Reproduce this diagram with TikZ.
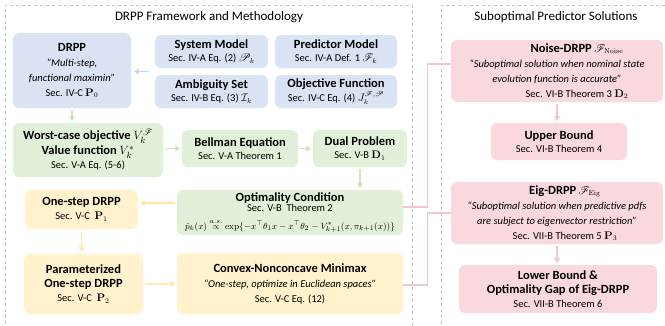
\documentclass[tikz,border=0pt]{standalone}
\usepackage{amsmath}
\usepackage{amssymb}
\usepackage{mathrsfs}
\usepackage[no-math]{fontspec}
\setmainfont{Carlito}
\usepackage{tikz}
\usetikzlibrary{arrows.meta,calc}

\definecolor{blueFill}{HTML}{DAE3F3}
\definecolor{blueLine}{HTML}{C5D3EE}
\definecolor{greenFill}{HTML}{E2F0D9}
\definecolor{greenLine}{HTML}{C9E3B9}
\definecolor{yellowFill}{HTML}{FFF2CC}
\definecolor{yellowLine}{HTML}{FFE6A3}
\definecolor{pinkFill}{HTML}{F9D8DE}
\definecolor{pinkLine}{HTML}{F6C4CD}
\definecolor{frameGray}{HTML}{BFBFBF}

\newcommand{\boxtitle}{\fontsize{12.5}{15}\selectfont\bfseries}
\newcommand{\boxnote}{\fontsize{10.5}{15}\selectfont}

\begin{document}
\begin{tikzpicture}[x=1pt,y=-1pt]
\tikzset{blk/.style={rounded corners=6pt,align=center,inner sep=0pt,
		font=\boxnote},
	blue/.style={blk,fill=blueFill},
	green/.style={blk,fill=greenFill},
	yellow/.style={blk,fill=yellowFill},
	pink/.style={blk,fill=pinkFill},
	flow/.style={line width=1.4pt,-{Triangle[length=4.5pt,width=6pt]},
		shorten <=2pt,shorten >=2pt},
	link/.style={line width=1.2pt,draw=pinkLine},
	frame/.style={draw=frameGray,dashed,line width=0.7pt}}

\useasboundingbox (0,0) rectangle (665,325);

% the two panels
\draw[frame] (5,330) -- (5,5) -- (412,5) -- (412,330);
\draw[frame] (441,330) -- (441,5) -- (668,5);
\node (left title) at (209,17) {\fontsize{13}{15}\selectfont DRPP Framework and Methodology};
\node (right title) at (556,17) {\fontsize{13}{15}\selectfont Suboptimal Predictor Solutions};

% problem set-up
\node[blue,minimum width=118pt,minimum height=75pt] (drpp) at (72,70.5)
	{{\boxtitle DRPP}\\ \itshape “Multi-step,\\ \itshape functional maximin”\\ Sec. IV-C $\mathbf{P}_0$};
\node[blue,minimum width=113pt,minimum height=33pt] (sys) at (211.5,51.5)
	{{\boxtitle System Model}\\[-2pt] Sec. IV-A Eq. (2) $\mathscr{P}_k$};
\node[blue,minimum width=122pt,minimum height=33pt] (pred) at (336,51.5)
	{{\boxtitle Predictor Model}\\[-2pt] Sec. IV-A Def. 1 $\mathscr{F}_k$};
\node[blue,minimum width=113pt,minimum height=33pt] (amb) at (211.5,91.5)
	{{\boxtitle Ambiguity Set}\\[-2pt] Sec. IV-B Eq. (3) $\mathcal{I}_k$};
\node[blue,minimum width=122pt,minimum height=33pt] (obj) at (336,91.5)
	{{\boxtitle Objective Function}\\[-1pt] Sec. IV-C Eq. (4) $J_k^{\mathscr{F},\mathscr{P}}$};
\coordinate (inputs) at ($(sys.south west)!0.5!(amb.north west)$);

% dynamic programming chain
\node[green,minimum width=150pt,minimum height=54pt] (worst) at (88,150)
	{{\boxtitle Worst-case objective $V_k^{\mathscr{F}}$}\\[0pt]
	 {\boxtitle Value function $V_k^*$}\\[-1pt] Sec. V-A Eq. (5-6)};
\node[green,minimum width=116pt,minimum height=37pt] (bellman) at (240,148.5)
	{{\boxtitle Bellman Equation}\\[-2pt] Sec. V-A Theorem 1};
\node[green,minimum width=94pt,minimum height=37pt] (dual) at (360,148.5)
	{{\boxtitle Dual Problem}\\[-2pt] Sec. V-B $\mathbf{D}_1$};
\node[green,minimum width=226pt,minimum height=45pt] (opt) at (290,212.5)
	{{\boxtitle Optimality Condition}\\[-5pt] Sec. V-B\ \ Theorem 2\\[3pt]
	 \fontsize{9.5}{11}\selectfont
	 $\hat{p}_k(x)\overset{a.s.}{\propto}\exp\{-x^\top\theta_1x-x^\top\theta_2-V_{k+1}^*(x,\pi_{k+1}(x))\}$};

% one-step reformulation
\node[yellow,minimum width=113pt,minimum height=39pt] (onestep) at (81.5,209.5)
	{{\boxtitle One-step DRPP}\\[-1pt] Sec. V-C\ \ $\mathbf{P}_1$};
\node[yellow,minimum width=119pt,minimum height=60pt] (param) at (83.5,284)
	{{\boxtitle Parameterized}\\[-1pt] {\boxtitle One-step DRPP}\\[-1pt] Sec. V-C\ \ $\mathbf{P}_2$};
\node[yellow,minimum width=226pt,minimum height=61pt] (convex) at (290,283.5)
	{{\boxtitle Convex-Nonconcave Minimax}\\ \itshape “One-step, optimize in Euclidean spaces”\\ Sec. V-C Eq. (12)};

% suboptimal solutions
\node[pink,minimum width=212pt,minimum height=62pt] (noise) at (557,71)
	{\hspace*{40pt}{\boxtitle Noise-DRPP} $\mathscr{F}_{\mathrm{Noise}}$\\
	 \itshape “Suboptimal solution when nominal state\\
	 \itshape evolution function is accurate”\\ \hspace*{40pt}Sec. VI-B Theorem 3 $\mathbf{D}_2$};
\node[pink,minimum width=136pt,minimum height=37pt] (upper) at (559,141.5)
	{{\boxtitle Upper Bound}\\[-2pt] Sec. VI-B Theorem 4};
\node[pink,minimum width=212pt,minimum height=62pt] (eig) at (557,213)
	{\hspace*{16pt}{\boxtitle Eig-DRPP} $\mathscr{F}_{\mathrm{Eig}}$\\
	 \itshape “Suboptimal solution when predictive pdfs\\
	 \itshape are subject to eigenvector restriction”\\ \hspace*{16pt}Sec. VII-B Theorem 5 $\mathbf{P}_3$};
\node[pink,minimum width=198pt,minimum height=48pt] (lower) at (558,289)
	{{\boxtitle Lower Bound \&}\\[-1pt] {\boxtitle Optimality Gap of Eig-DRPP}\\[-1pt] Sec. VII-B Theorem 6};

% arrows
\draw[flow,draw=blueLine,shorten <=6pt,shorten >=3pt] (inputs) -- (inputs -| drpp.east);
\draw[flow,draw=greenLine] (drpp.south) -- (drpp.south |- worst.north);
\draw[flow,draw=greenLine] (worst.east |- bellman) -- (bellman.west);
\draw[flow,draw=greenLine] (bellman) -- (dual);
\draw[flow,draw=greenLine] (dual.south) -- (dual.south |- opt.north);
\draw[flow,draw=yellowLine] ([yshift=9.5pt]opt.west) -- ([yshift=9.5pt]opt.west -| onestep.east);
\draw[flow,draw=yellowLine] (onestep.south) -- (onestep.south |- param.north);
\draw[flow,draw=yellowLine] (param) -- (convex);
\draw[flow,draw=pinkLine] (noise.south) -- (noise.south |- upper.north);
\draw[flow,draw=pinkLine] (eig.south) -- (eig.south |- lower.north);

% links into the suboptimal solutions
\draw[link] ([yshift=5.5pt]opt.east) -- ++(24,0) |- ([yshift=7pt]noise.west);
\draw[link] ([yshift=-1.5pt]convex.east) -- ++(24,0) |- (eig.west);
\end{tikzpicture}
\end{document}
